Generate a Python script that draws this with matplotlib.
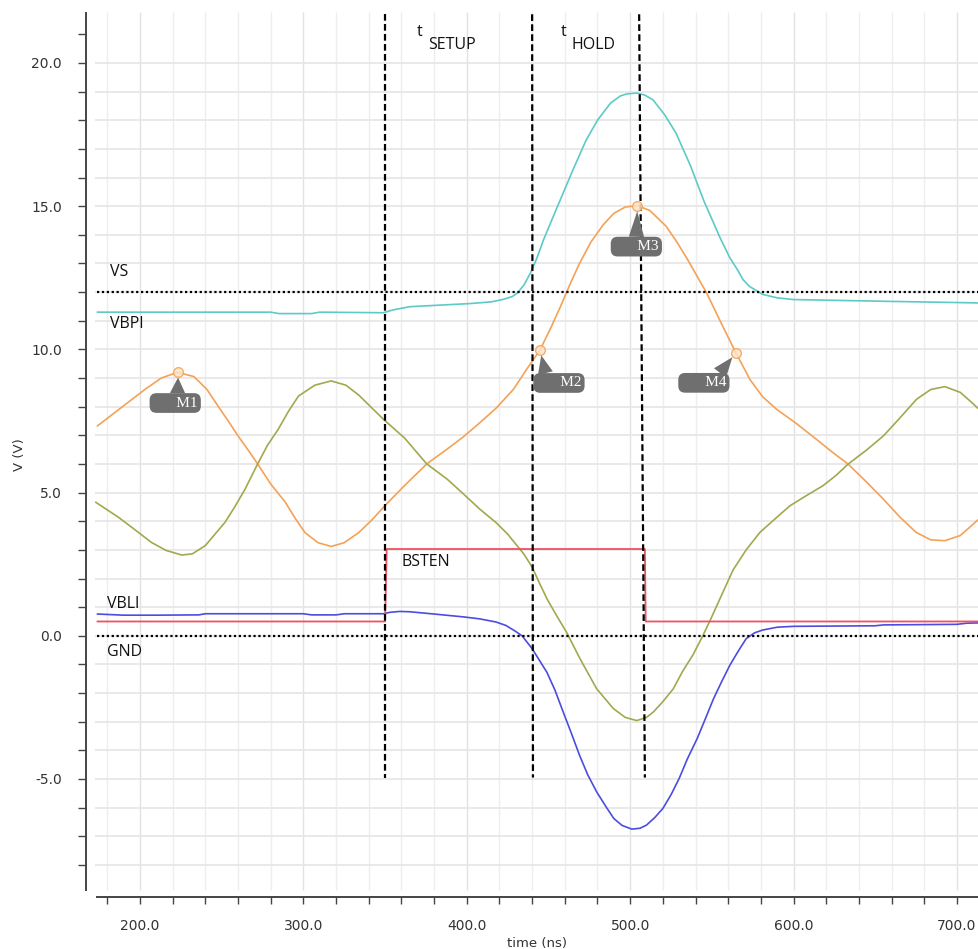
import matplotlib
matplotlib.use("Agg")
import matplotlib.pyplot as plt

vbpi_t = [174, 280, 285, 305, 310, 349, 355, 365, 385, 402, 415, 422, 428, 431, 435, 439, 443, 447,
          453, 459, 465, 473, 480, 488, 494, 498, 504, 509, 514, 521, 528, 537, 545, 555, 561, 566,
          569, 573, 581, 590, 600, 655, 706, 713.5]
vbpi_v = [11.3, 11.3, 11.25, 11.25, 11.3, 11.28, 11.38, 11.49, 11.55, 11.6, 11.66, 11.74, 11.85, 11.97,
          12.25, 12.67, 13.2, 13.83, 14.65, 15.46, 16.27, 17.3, 18.0, 18.6, 18.85, 18.92, 18.95, 18.88,
          18.71, 18.2, 17.56, 16.4, 15.2, 13.9, 13.2, 12.75, 12.44, 12.2, 11.92, 11.8, 11.74, 11.68,
          11.63, 11.62]

orange_t = [174, 187, 203, 213, 223, 233, 241, 248, 254, 260, 266, 272, 280, 289, 295, 301, 309, 317,
            325, 334, 342, 350, 362, 375.5, 388, 398, 408, 418, 428.5, 436.6, 444.8, 451, 457, 463,
            469, 476, 483.5, 490, 497, 504.4, 512, 522, 528, 534.5, 541, 546.8, 555, 564.7, 573.3,
            581, 589.6, 602, 614, 624, 633.5, 645, 655, 665, 675, 684, 692.6, 702, 708, 713.5]
orange_v = [7.33, 7.9, 8.6, 9.0, 9.2, 9.05, 8.6, 8.0, 7.5, 6.98, 6.5, 6.0, 5.3, 4.66, 4.1, 3.6, 3.25,
            3.12, 3.25, 3.61, 4.05, 4.55, 5.25, 6.0, 6.52, 6.95, 7.44, 7.95, 8.6, 9.3, 9.98, 10.7, 11.45,
            12.25, 13.0, 13.75, 14.35, 14.75, 14.97, 15.02, 14.85, 14.3, 13.8, 13.2, 12.55, 11.97, 11.0,
            9.88, 8.95, 8.35, 7.91, 7.4, 6.86, 6.4, 5.99, 5.35, 4.77, 4.15, 3.61, 3.35, 3.32, 3.5,
            3.8, 4.08]

olive_t = [173, 187, 197, 207, 216, 225.5, 232, 240, 252, 258, 264.3, 272, 278, 284.6, 291, 297, 307,
           317, 326, 334, 342, 349, 362, 375.5, 388, 398, 408, 418, 425, 430, 435, 440, 444, 449, 455,
           461, 469.3, 479.5, 489.7, 497, 504, 510, 514.2, 520, 526.4, 532, 538.6, 544, 548.8, 557,
           563, 571, 579.4, 590, 597.8, 608, 618, 626, 633.5, 645, 655, 665, 675.3, 684, 692.6, 702,
           708, 713.5]
olive_v = [4.66, 4.13, 3.7, 3.26, 2.98, 2.82, 2.86, 3.15, 3.96, 4.5, 5.12, 6.0, 6.65, 7.21, 7.85, 8.37,
           8.75, 8.9, 8.75, 8.4, 7.95, 7.56, 6.9, 6.0, 5.47, 4.95, 4.42, 3.95, 3.55, 3.2, 2.85, 2.4,
           1.9, 1.3, 0.7, 0.13, -0.8, -1.85, -2.54, -2.85, -2.96, -2.85, -2.66, -2.3, -1.85, -1.25,
           -0.65, -0.05, 0.52, 1.55, 2.3, 3.0, 3.61, 4.15, 4.54, 4.9, 5.24, 5.6, 6.0, 6.5, 6.98, 7.6,
           8.26, 8.6, 8.7, 8.5, 8.2, 7.91]

vbli_t = [174, 190, 210, 236, 240, 262, 300, 305, 320, 325, 349, 353, 359, 365, 380, 398, 408, 418,
          424, 430, 434, 440, 449, 454, 459, 464, 469, 474, 479.5, 485, 490, 495, 501, 506, 510, 515,
          520, 525, 530, 535, 541, 546, 551, 556, 561, 566, 571, 576, 581, 590, 600, 650, 655, 700,
          706, 713.5]
vbli_v = [0.76, 0.72, 0.72, 0.73, 0.77, 0.77, 0.77, 0.73, 0.73, 0.77, 0.77, 0.82, 0.85, 0.84, 0.76,
          0.66, 0.59, 0.48, 0.36, 0.15, -0.01, -0.45, -1.27, -1.9, -2.66, -3.4, -4.17, -4.85, -5.45,
          -5.95, -6.38, -6.62, -6.75, -6.72, -6.61, -6.35, -6.03, -5.55, -4.98, -4.3, -3.59, -2.9,
          -2.2, -1.6, -1.03, -0.55, -0.1, 0.1, 0.2, 0.3, 0.33, 0.35, 0.38, 0.4, 0.44, 0.45]

bsten_t = [174, 350, 351, 509, 509.5, 713.5]
bsten_v = [0.5, 0.5, 3.03, 3.03, 0.5, 0.5]

vs_level = 12.0
gnd_level = 0.0

# timing cursors (t_setup start, setup/hold boundary, hold end top/bottom)
cursor_top = [350, 440, 505.5]
cursor_bot = [350, 440.5, 509]

marker_names = ["M1", "M2", "M3", "M4"]
marker_t = [223.4, 444.8, 504.4, 564.7]
marker_v = [9.21, 9.98, 15.02, 9.88]
marker_offs = [(-3, -31), (19, -33), (-1, -41), (-32, -30)]  # callout offset, pixels
marker_relx = [0.55, 0.22, 0.5, 0.78]  # where the pointer leaves the box top

xticks_major = [200, 300, 400, 500, 600, 700]
yticks_major = [-5, 0, 5, 10, 15, 20]

XMIN, XMAX = 166.95, 713.5
YMIN, YMAX = -9.12, 21.78

fig = plt.figure(figsize=(9.79, 9.49), dpi=100)
ax = fig.add_axes([86 / 979, 1 - 897 / 949, (979 - 86) / 979, (897 - 12) / 949])
ax.set_xlim(XMIN, XMAX)
ax.set_ylim(YMIN, YMAX)

# grid
for t in range(180, 701, 20):
    c = "#e2e2e2" if t % 100 == 0 else "#eeeeee"
    ax.vlines(t, -8.88, YMAX, color=c, lw=1.0, zorder=0)
for v in range(-8, 21):
    ax.hlines(v, 172.4, XMAX, color="#e7e7e7", lw=1.3, zorder=0)

# reference levels
ax.plot([173.5, XMAX], [vs_level, vs_level], color="black", lw=1.6, dashes=(1, 1.2), zorder=3)
ax.plot([173.5, XMAX], [gnd_level, gnd_level], color="black", lw=1.6, dashes=(1, 1.2), zorder=3)

# traces
ax.plot(vbpi_t, vbpi_v, color="#5ccac6", lw=1.2, zorder=2)
ax.plot(orange_t, orange_v, color="#f3a257", lw=1.2, zorder=2)
ax.plot(olive_t, olive_v, color="#a3a84e", lw=1.2, zorder=2)
ax.plot(vbli_t, vbli_v, color="#4c4ce0", lw=1.2, zorder=2)
ax.plot(bsten_t, bsten_v, color="#f0505f", lw=1.3, zorder=2)

# cursors
for t0, t1 in zip(cursor_top, cursor_bot):
    ax.plot([t0, t1], [21.7, -4.95], color="black", lw=1.6, dashes=(3.0, 1.5), zorder=4)

# markers with callouts
for name, t, v, off, rx in zip(marker_names, marker_t, marker_v, marker_offs, marker_relx):
    ax.plot(t, v, "o", ms=7, mfc="#fde3c6", mec="#f3a257", mew=1.0, alpha=0.85, zorder=5)
    ax.annotate("      " + name, xy=(t, v), xytext=off, textcoords="offset pixels",
                ha="center", va="center", color="white", fontsize=11,
                family="Liberation Serif",
                bbox=dict(boxstyle="round,pad=0.22,rounding_size=0.45", fc="#6f6f6f", ec="none"),
                arrowprops=dict(arrowstyle="wedge,tail_width=1.0,shrink_factor=0.5",
                                fc="#6f6f6f", ec="none", shrinkA=0, shrinkB=4,
                                relpos=(rx, 0.9)),
                zorder=6)

# signal names
lab = dict(fontsize=11.5, family="Open Sans", color="#111111", zorder=6)
ax.text(181.5, 12.7, "VS", va="center", ha="left", **lab)
ax.text(181.5, 10.9, "VBPI", va="center", ha="left", **lab)
ax.text(180.0, 1.11, "VBLI", va="center", ha="left", **lab)
ax.text(180.0, -0.57, "GND", va="center", ha="left", **lab)
ax.text(360.2, 2.58, "BSTEN", va="center", ha="left", **lab)
ax.text(369.5, 21.08, "t", va="center", ha="left", **lab)
ax.text(376.3, 20.64, "SETUP", va="center", ha="left", **lab)
ax.text(457.6, 21.08, "t", va="center", ha="left", **lab)
ax.text(464.4, 20.64, "HOLD", va="center", ha="left", **lab)

# axes cosmetics
for s in ["top", "right"]:
    ax.spines[s].set_visible(False)
ax.spines["left"].set_bounds(-8.88, 21.74)
ax.spines["bottom"].set_bounds(173.7, XMAX)
for s in ["left", "bottom"]:
    ax.spines[s].set_color("#444444")
    ax.spines[s].set_linewidth(1.4)

ax.set_xticks(xticks_major)
ax.set_xticklabels(["%.1f" % t for t in xticks_major])
ax.set_xticks(range(180, 701, 20), minor=True)
ax.set_yticks(yticks_major)
ax.set_yticklabels(["%.1f" % v for v in yticks_major])
ax.set_yticks(range(-8, 22), minor=True)
ax.tick_params(axis="x", which="both", length=4.8, width=1.0, color="#444444",
               labelsize=10, labelcolor="#333333", pad=11)
ax.tick_params(axis="y", which="both", length=5.5, width=1.0, color="#444444",
               labelsize=10, labelcolor="#333333", pad=12)

fig.text(537 / 979, 1 - 943 / 949, "time (ns)", ha="center", va="center", fontsize=9.5, color="#333333")
fig.text(20 / 979, 1 - 455 / 949, "V (V)", ha="center", va="center", rotation=90, fontsize=9.5,
         color="#333333")

fig.savefig("out.png", dpi=100)
